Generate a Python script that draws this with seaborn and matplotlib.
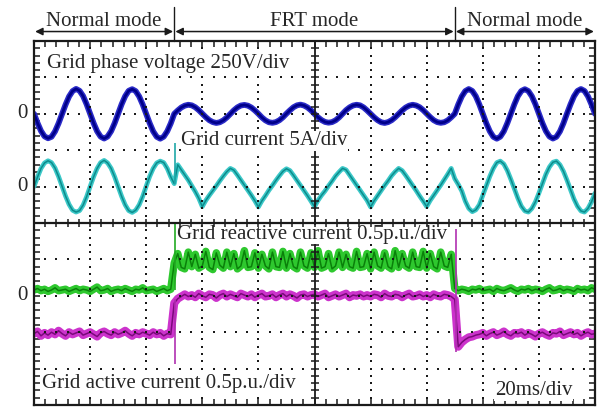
import numpy as np
import pandas as pd
import matplotlib
matplotlib.use('Agg')
import matplotlib.pyplot as plt
import seaborn as sns

# scope capture, one sample every 1.25 ms, 200 ms on screen (20ms/div)
dt = 1.25
volt_div, cur_div, pu_div = 250.0, 5.0, 0.5

# grid phase voltage (V)
volt = [0, -63, -118, -155, -168, -158, -121, -66, -2, 63, 119, 156, 171, 158, 122, 66,
        1, -64, -120, -157, -170, -156, -119, -64, 0, 66, 121, 158, 169, 156, 119, 64,
        -1, -65, -121, -158, -171, -157, -120, -66, 0, 23, 43, 56, 62, 58, 45, 25,
        1, -23, -44, -57, -63, -58, -45, -25, -1, 24, 44, 57, 61, 56, 43, 23,
        0, -25, -45, -58, -62, -57, -44, -24, 1, 24, 45, 58, 63, 57, 44, 24,
        -1, -24, -43, -56, -61, -57, -45, -25, 0, 25, 44, 57, 62, 58, 44, 23,
        0, -24, -44, -58, -63, -57, -44, -24, 0, 23, 43, 56, 62, 57, 45, 25,
        1, -23, -44, -57, -62, -58, -45, -24, 0, 64, 119, 156, 170, 157, 121, 65,
        -1, -65, -120, -158, -171, -157, -120, -64, 0, 65, 121, 157, 169, 156, 120, 66,
        1, -64, -119, -156, -170, -158, -121, -65, 1, 64, 120, 157, 170, 157, 120, 64,
        0]

# grid current (A)
cur = [0, 1.3, 2.5, 3.25, 3.55, 3.3, 2.55, 1.4, 0.05, -1.3, -2.45, -3.25, -3.5, -3.3, -2.55, -1.4,
       0, 1.35, 2.5, 3.3, 3.6, 3.25, 2.5, 1.35, 0, -1.35, -2.5, -3.3, -3.55, -3.25, -2.5, -1.35,
       0.05, 1.4, 2.5, 3.25, 3.5, 3.3, 2.5, 1.35, 0.4, 3.0, 2.3, 1.6, 0.9, 0.1, -0.7, -1.6,
       -2.75, -1.9, -1.2, -0.55, 0.1, 0.8, 1.45, 2.05, 2.5, 2.25, 1.6, 0.9, 0.2, -0.5, -1.2, -1.95,
       -2.8, -1.95, -1.25, -0.5, 0.15, 0.85, 1.5, 2.1, 2.45, 2.2, 1.55, 0.85, 0.15, -0.55, -1.25, -2.0,
       -2.75, -1.9, -1.2, -0.6, 0.1, 0.75, 1.45, 2.0, 2.5, 2.3, 1.6, 0.9, 0.2, -0.5, -1.2, -1.9,
       -2.8, -1.95, -1.25, -0.55, 0.15, 0.8, 1.5, 2.05, 2.5, 2.2, 1.55, 0.85, 0.15, -0.55, -1.3, -2.0,
       -2.75, -1.9, -1.2, -0.5, 0.2, 0.95, 1.7, 2.5, 1.1, 0.3, -0.6, -2.0, -3.0, -3.45, -3.2, -2.5,
       -1.2, 0.1, 1.4, 2.5, 3.3, 3.5, 3.1, 2.2, 1.0, -0.3, -1.6, -2.7, -3.35, -3.5, -3.0, -2.1,
       -0.9, 0.4, 1.7, 2.7, 3.35, 3.5, 3.0, 2.1, 0.9, -0.4, -1.7, -2.7, -3.35, -3.5, -3.0, -2.1,
       -0.9]

# grid reactive current (p.u.)
q = [0.08, 0.10, 0.07, 0.09, 0.06, 0.08, 0.11, 0.07, 0.08, 0.09, 0.06, 0.08, 0.10, 0.07, 0.09, 0.08,
     0.06, 0.09, 0.12, 0.07, 0.08, 0.10, 0.06, 0.08, 0.09, 0.07, 0.10, 0.08, 0.06, 0.09, 0.08, 0.11,
     0.07, 0.08, 0.09, 0.06, 0.08, 0.10, 0.07, 0.09, 0.45, 0.58, 0.39, 0.37, 0.60, 0.40, 0.57, 0.38,
     0.41, 0.61, 0.39, 0.36, 0.59, 0.42, 0.38, 0.60, 0.40, 0.58, 0.37, 0.41, 0.62, 0.39, 0.40, 0.59,
     0.38, 0.57, 0.41, 0.37, 0.60, 0.40, 0.39, 0.61, 0.38, 0.58, 0.40, 0.37, 0.60, 0.41, 0.38, 0.59,
     0.39, 0.62, 0.38, 0.40, 0.58, 0.37, 0.41, 0.60, 0.39, 0.57, 0.40, 0.38, 0.61, 0.39, 0.40, 0.58,
     0.37, 0.60, 0.41, 0.38, 0.59, 0.40, 0.37, 0.62, 0.39, 0.58, 0.41, 0.38, 0.60, 0.40, 0.39, 0.61,
     0.38, 0.58, 0.40, 0.37, 0.60, 0.41, 0.39, 0.57, 0.10, 0.07, 0.09, 0.08, 0.06, 0.09, 0.08, 0.10,
     0.07, 0.08, 0.09, 0.06, 0.10, 0.08, 0.07, 0.09, 0.11, 0.08, 0.06, 0.09, 0.08, 0.10, 0.07, 0.09,
     0.08, 0.06, 0.09, 0.11, 0.07, 0.08, 0.10, 0.07, 0.09, 0.08, 0.06, 0.10, 0.08, 0.09, 0.07, 0.11,
     0.09]

# grid active current (p.u.)
p = [-0.52, -0.49, -0.55, -0.51, -0.54, -0.50, -0.53, -0.48, -0.52, -0.55, -0.50, -0.53, -0.51, -0.49, -0.54, -0.52,
     -0.50, -0.53, -0.56, -0.51, -0.49, -0.52, -0.54, -0.50, -0.53, -0.51, -0.48, -0.52, -0.55, -0.51, -0.53, -0.50,
     -0.52, -0.54, -0.50, -0.53, -0.51, -0.55, -0.52, -0.53, -0.10, -0.04, -0.01, 0.02, -0.01, 0.01, -0.02, 0.03,
     0.00, -0.02, 0.02, 0.01, -0.03, 0.01, 0.03, -0.01, 0.02, 0.00, -0.02, 0.03, 0.01, -0.01, 0.02, -0.02,
     0.01, 0.03, -0.01, 0.00, 0.02, -0.02, 0.01, 0.03, -0.01, 0.02, 0.00, -0.03, 0.01, 0.02, -0.01, 0.01,
     0.02, -0.01, 0.01, 0.03, -0.02, 0.00, 0.02, -0.01, 0.01, 0.03, -0.02, 0.01, 0.00, 0.02, -0.01, 0.01,
     -0.01, 0.02, 0.01, -0.02, 0.03, 0.00, -0.01, 0.02, 0.01, -0.02, 0.01, 0.03, -0.01, 0.00, 0.02, -0.01,
     0.01, -0.02, 0.02, 0.00, -0.01, 0.02, 0.01, -0.01, -0.05, -0.70, -0.64, -0.60, -0.57, -0.56, -0.54, -0.53,
     -0.51, -0.55, -0.52, -0.50, -0.54, -0.52, -0.49, -0.53, -0.55, -0.51, -0.52, -0.50, -0.54, -0.51, -0.53, -0.56,
     -0.52, -0.50, -0.53, -0.55, -0.51, -0.52, -0.49, -0.54, -0.52, -0.50, -0.53, -0.51, -0.55, -0.52, -0.50, -0.53,
     -0.52]

# switching transients (time ms, low, high)
i_spike_t, i_spike_lo, i_spike_hi = [50.2], [0.4], [6.0]
q_spike_t, q_spike_lo, q_spike_hi = [50.1], [0.08], [1.0]
p_spike_t, p_spike_lo, p_spike_hi = [50.1, 150.3], [-0.93, -0.77], [-0.05, 0.92]

modes = ['Normal mode', 'FRT mode', 'Normal mode']
mode_edges = [0, 50, 150, 200]

df = pd.DataFrame({'v': volt, 'i': cur, 'q': q, 'p': p})
df['t'] = np.arange(len(df)) * dt

sns.set_theme(style='white')
plt.rcParams['font.family'] = ['Liberation Serif', 'DejaVu Serif']
fs = 15
box = dict(facecolor='white', edgecolor='none', pad=0.3)

fig = plt.figure(figsize=(6.05, 4.08), dpi=100)
ax = fig.add_axes([34/605, 3/408, 561/605, 364/408])

def trace(col, scale, off, c_out, c_in, lw_out, lw_in):
    y = df[col] / scale + off
    sns.lineplot(x=df['t'], y=y, ax=ax, color=c_out, lw=lw_out, estimator=None, sort=False, zorder=3)
    sns.lineplot(x=df['t'], y=y, ax=ax, color=c_in, lw=lw_in, estimator=None, sort=False, zorder=3)

trace('v', volt_div, 3, '#2b2bc8', '#00008a', 4.2, 2.0)
trace('i', cur_div, 1, '#3cc8c8', '#0c8c8c', 3.4, 1.1)
trace('q', pu_div, -2, '#2ec82e', '#0a800a', 5.4, 1.1)
trace('p', pu_div, -2, '#cc33cc', '#7a0a7a', 5.8, 1.1)

ax.vlines(i_spike_t, np.array(i_spike_lo)/cur_div + 1, np.array(i_spike_hi)/cur_div + 1, color='#20a8a8', lw=1.2, zorder=3)
ax.vlines(q_spike_t, np.array(q_spike_lo)/pu_div - 2, np.array(q_spike_hi)/pu_div - 2, color='#22aa22', lw=1.2, zorder=3)
ax.vlines(p_spike_t, np.array(p_spike_lo)/pu_div - 2, np.array(p_spike_hi)/pu_div - 2, color='#b030b0', lw=1.2, zorder=3)

# graticule
minor_x = np.arange(0, 200.1, 4)
minor_y = np.arange(-5, 5.01, 0.2)
for gx in range(20, 200, 20):
    if gx != 100:
        ax.plot(np.full_like(minor_y, gx), minor_y, ls='none', marker='s', ms=1.5, mew=0, color='k', zorder=5)
for gy in range(-4, 5):
    if gy != 0:
        ax.plot(minor_x, np.full_like(minor_x, gy), ls='none', marker='s', ms=1.5, mew=0, color='k', zorder=5)
ax.axvline(100, color='k', lw=1.3, zorder=5)
ax.plot(np.full_like(minor_y, 100), minor_y, ls='none', marker='_', ms=6, mew=1.1, color='k', zorder=5)
ax.axhline(0, color='k', lw=1.6, zorder=8)
ax.plot(minor_x, np.zeros_like(minor_x), ls='none', marker='|', ms=6, mew=1.1, color='k', zorder=8)

ax.set_xlim(0, 200)
ax.set_ylim(-5, 5)
ax.set_xticks(range(0, 201, 20))
ax.set_xticks(minor_x, minor=True)
ax.set_yticks(range(-5, 6))
ax.set_yticks(minor_y, minor=True)
ax.tick_params(which='both', direction='in', length=4, width=1.1, color='k',
               top=True, right=True, bottom=True, left=True,
               labelbottom=False, labelleft=False)
ax.set_xlabel('')
ax.set_ylabel('')
for s in ax.spines.values():
    s.set_color('k')
    s.set_linewidth(1.6)
    s.set_zorder(9)

# header with mode arrows
for k, name in enumerate(modes):
    a, b = mode_edges[k], mode_edges[k + 1]
    ax.annotate('', xy=(a + 0.4, 5.26), xytext=(b - 0.4, 5.26),
                arrowprops=dict(arrowstyle='<|-|>', color='k', lw=1.1, shrinkA=0, shrinkB=0,
                                mutation_scale=11), annotation_clip=False)
    ax.text((a + b) / 2, 5.41, name, ha='center', va='baseline', fontsize=fs, clip_on=False)
for e in mode_edges[1:3]:
    ax.plot([e, e], [5, 5.93], color='k', lw=1.0, clip_on=False)

ax.text(4.6, 4.26, 'Grid phase voltage 250V/div', fontsize=fs, va='baseline', zorder=7, bbox=box)
ax.text(52.4, 2.14, 'Grid current 5A/div', fontsize=fs, va='baseline', zorder=7, bbox=box)
ax.text(51.0, -0.44, 'Grid reactive current 0.5p.u./div', fontsize=fs, va='baseline', zorder=7, bbox=box)
ax.text(2.9, -4.53, 'Grid active current 0.5p.u./div', fontsize=fs, va='baseline', zorder=7, bbox=box)
ax.text(164.3, -4.73, '20ms/div', fontsize=fs, va='baseline', zorder=7, bbox=box)
for y0 in [3, 1, -2]:
    ax.text(-4.3, y0, '0', fontsize=fs, ha='center', va='center', clip_on=False)

fig.savefig('out.png', dpi=100)
plt.close(fig)
